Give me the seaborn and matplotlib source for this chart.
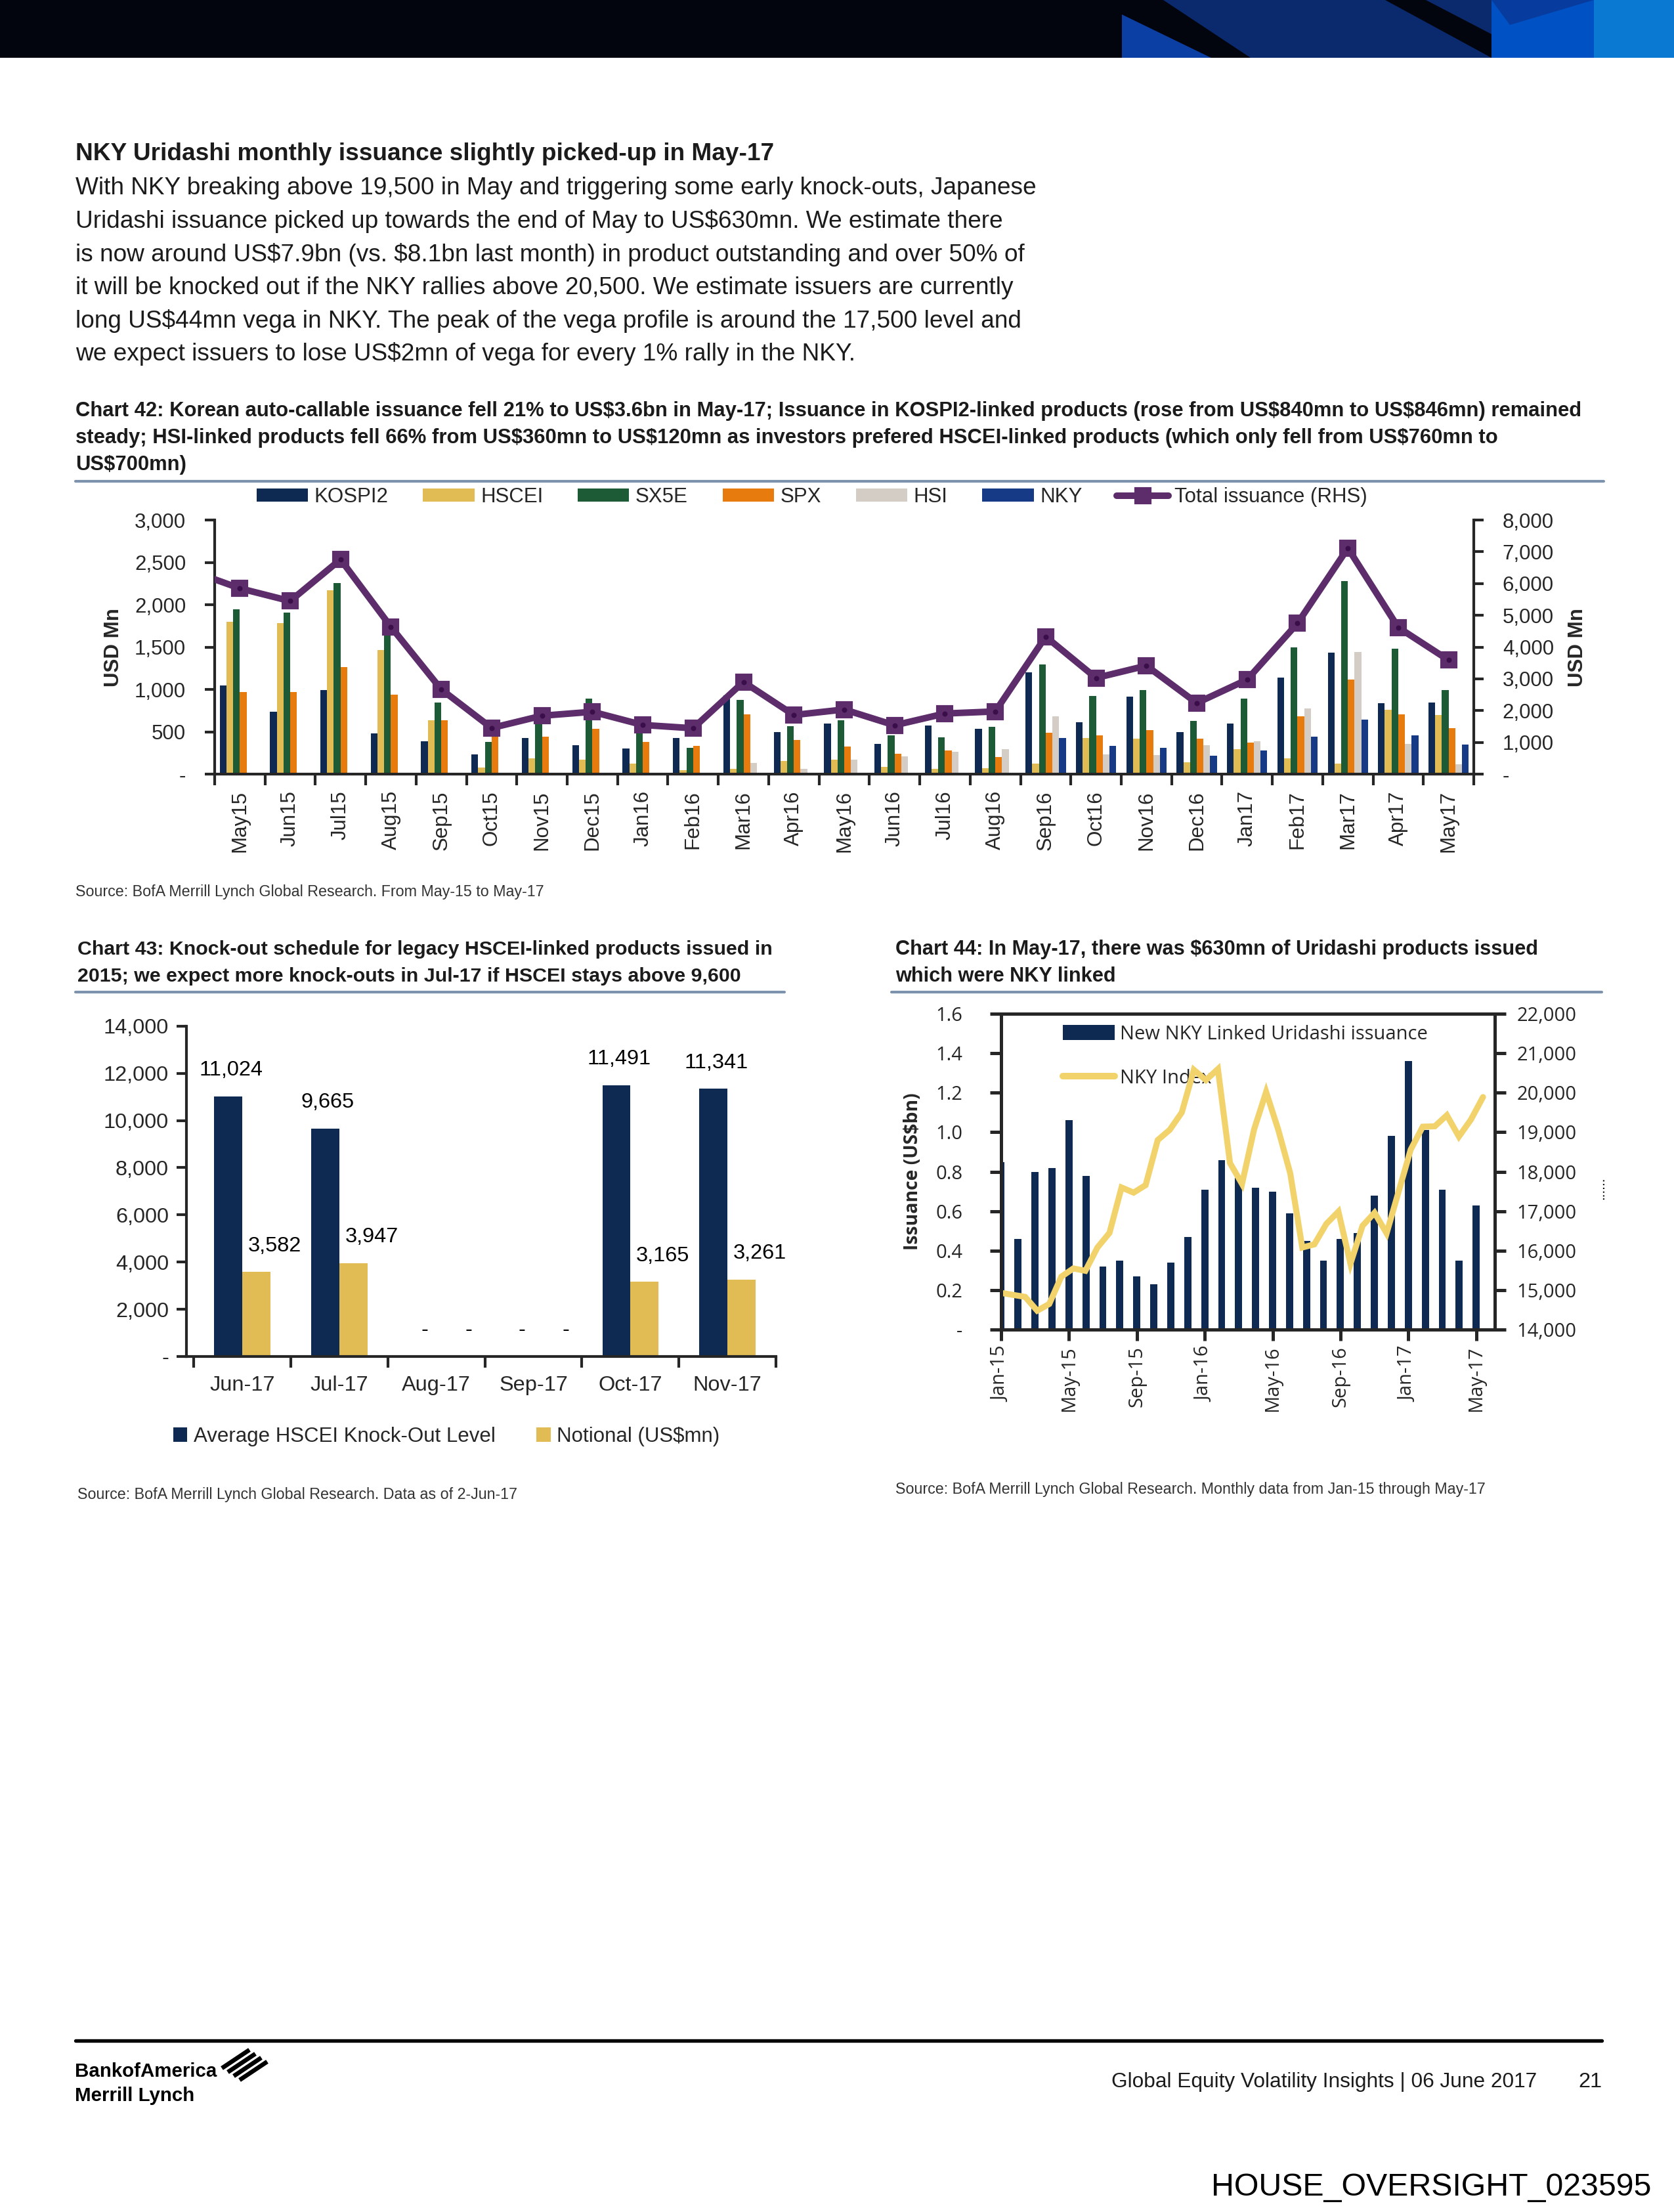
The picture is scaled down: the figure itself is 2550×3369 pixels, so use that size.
import numpy as np
import pandas as pd
import matplotlib
matplotlib.use("Agg")
import matplotlib.pyplot as plt
import seaborn as sns
from matplotlib import font_manager
from matplotlib.patches import Patch, Polygon, Rectangle
from matplotlib.lines import Line2D
from matplotlib.ticker import FuncFormatter

# ---------------- Chart 42: Korean auto-callable issuance (USD mn) ----------------
months42 = ["May15", "Jun15", "Jul15", "Aug15", "Sep15", "Oct15", "Nov15", "Dec15",
            "Jan16", "Feb16", "Mar16", "Apr16", "May16", "Jun16", "Jul16", "Aug16",
            "Sep16", "Oct16", "Nov16", "Dec16", "Jan17", "Feb17", "Mar17", "Apr17", "May17"]
kospi2 = [1050, 740, 990, 480, 385, 230, 425, 345, 305, 430, 930, 500, 598, 355, 573, 535,
          1200, 615, 915, 495, 598, 1140, 1435, 840, 846]
hscei = [1800, 1785, 2170, 1465, 638, 75, 190, 170, 125, 50, 65, 160, 170, 85, 67, 74,
         128, 427, 421, 140, 293, 185, 125, 760, 700]
sx5e = [1950, 1910, 2255, 1665, 848, 378, 650, 895, 487, 315, 880, 566, 637, 456, 433, 558,
        1292, 926, 990, 630, 896, 1500, 2277, 1482, 992]
spx = [972, 972, 1261, 941, 638, 472, 440, 534, 378, 331, 706, 401, 325, 238, 278, 199,
       488, 457, 520, 421, 373, 684, 1114, 707, 543]
hsi = [0, 0, 0, 0, 0, 0, 0, 0, 0, 0, 136, 60, 175, 209, 262, 292,
       684, 230, 224, 341, 388, 777, 1444, 356, 120]
nky = [0, 0, 0, 0, 0, 0, 0, 0, 0, 0, 0, 0, 0, 0, 0, 0,
       426, 332, 311, 215, 278, 442, 645, 457, 350]
total = [5850, 5450, 6760, 4640, 2670, 1455, 1840, 1965, 1550, 1446, 2905, 1863, 2037, 1540,
         1910, 1975, 4330, 3030, 3415, 2240, 2978, 4750, 7115, 4620, 3590]
total_apr15 = 6420  # month before the window: only the stub of the line shows

# ---------------- Chart 43: HSCEI knock-out schedule ----------------
months43 = ["Jun-17", "Jul-17", "Aug-17", "Sep-17", "Oct-17", "Nov-17"]
ko_level = [11024, 9665, 0, 0, 11491, 11341]
notional = [3582, 3947, 0, 0, 3165, 3261]

# ---------------- Chart 44: NKY Uridashi issuance ----------------
months44 = ["Jan-15", "Feb-15", "Mar-15", "Apr-15", "May-15", "Jun-15", "Jul-15", "Aug-15",
            "Sep-15", "Oct-15", "Nov-15", "Dec-15", "Jan-16", "Feb-16", "Mar-16", "Apr-16",
            "May-16", "Jun-16", "Jul-16", "Aug-16", "Sep-16", "Oct-16", "Nov-16", "Dec-16",
            "Jan-17", "Feb-17", "Mar-17", "Apr-17", "May-17"]
uridashi = [0.85, 0.46, 0.80, 0.82, 1.06, 0.78, 0.32, 0.35, 0.27, 0.23, 0.34, 0.47, 0.71,
            0.86, 0.77, 0.72, 0.70, 0.59, 0.45, 0.35, 0.46, 0.49, 0.68, 0.98, 1.36, 1.01,
            0.71, 0.35, 0.63]
nky_index = [14930, 14880, 14830, 14480, 14650, 15340, 15550, 15490, 16080, 16450, 17600,
             17470, 17660, 18800, 19060, 19500, 20580, 20320, 20600, 18220, 17690, 19070,
             20020, 19070, 17960, 16080, 16160, 16680, 16990, 15670, 16630, 16960, 16440,
             17500, 18560, 19140, 19150, 19430, 18890, 19320, 19890]

# ---------------- style ----------------
sns.set_style("ticks")
names = {f.name for f in font_manager.fontManager.ttflist}
HAS_NARROW = "Liberation Sans Narrow" in names
NARROW = "Liberation Sans Narrow" if HAS_NARROW else "Liberation Sans"
ARIAL = "Liberation Sans"
MYRIAD = "Open Sans" if "Open Sans" in names else "DejaVu Sans"
plt.rcParams["font.family"] = [ARIAL, "DejaVu Sans"]
plt.rcParams["axes.linewidth"] = 1.0


def fs(narrow_size, plain_size):
    # same text width whichever of the two families is installed
    return narrow_size if HAS_NARROW else plain_size


NAVY = "#0E2A53"
GOLD = "#E1BC55"
GREEN = "#1D5B37"
ORANGE = "#E77B0D"
BEIGE = "#D4CDC5"
BLUE = "#163A86"
PURPLE = "#5C2C6B"
YELLOW = "#F2D36B"
TXT = "#1B1B1B"


def esc(s):
    return s.replace("$", r"\$")


def dash_fmt(fmt):
    return FuncFormatter(lambda v, p: "-" if abs(v) < 1e-9 else fmt.format(v))


fig = plt.figure(figsize=(8.5, 11.23), dpi=300)
fig.patch.set_facecolor("white")

# page layer in pixel coordinates (decoration and report text)
page = fig.add_axes([0, 0, 1, 1], zorder=-1)
page.set_xlim(0, 2550)
page.set_ylim(3369, 0)
page.axis("off")

# top banner
page.add_patch(Rectangle((0, 0), 2550, 88, color="#02040E", lw=0))
page.add_patch(Rectangle((1709, 0), 563, 88, color="#0B2A6E", lw=0))
page.add_patch(Polygon([(1709, 22), (1845, 88), (1709, 88)], color="#0C3FA4", lw=0))
page.add_patch(Polygon([(1709, 0), (1772, 0), (1905, 88), (1845, 88), (1709, 22)],
                       color="#02040E", lw=0))
page.add_patch(Polygon([(2110, 0), (2172, 0), (2272, 52), (2272, 88)], color="#02040E", lw=0))
page.add_patch(Rectangle((2272, 0), 156, 88, color="#0052C4", lw=0))
page.add_patch(Polygon([(2272, 0), (2428, 0), (2300, 38)], color="#073C9E", lw=0))
page.add_patch(Rectangle((2428, 0), 122, 88, color="#0A79D1", lw=0))

page.text(115, 235, "NKY Uridashi monthly issuance slightly picked-up in May-17",
          family=NARROW, weight="bold", size=fs(10.5, 8.9), color=TXT, va="center")
body = [
    "With NKY breaking above 19,500 in May and triggering some early knock-outs, Japanese",
    "Uridashi issuance picked up towards the end of May to US$630mn. We estimate there",
    "is now around US$7.9bn (vs. $8.1bn last month) in product outstanding and over 50% of",
    "it will be knocked out if the NKY rallies above 20,500. We estimate issuers are currently",
    "long US$44mn vega in NKY. The peak of the vega profile is around the 17,500 level and",
    "we expect issuers to lose US$2mn of vega for every 1% rally in the NKY.",
]
for i, line in enumerate(body):
    page.text(115, 287 + i * 50.4, esc(line), family=NARROW, size=fs(10, 8.9), color=TXT,
              va="center")

t42 = [
    "Chart 42: Korean auto-callable issuance fell 21% to US$3.6bn in May-17; Issuance in KOSPI2-linked products (rose from US$840mn to US$846mn) remained",
    "steady; HSI-linked products fell 66% from US$360mn to US$120mn as investors prefered HSCEI-linked products (which only fell from US$760mn to",
    "US$700mn)",
]
for i, line in enumerate(t42):
    page.text(115, 626 + i * 41, esc(line), family=NARROW, weight="bold", size=fs(8.4, 7.45),
              color=TXT, va="center")
page.plot([115, 2443], [733, 733], color="#7D93AD", lw=1.0)

t43 = ["Chart 43: Knock-out schedule for legacy HSCEI-linked products issued in",
       "2015; we expect more knock-outs in Jul-17 if HSCEI stays above 9,600"]
t44 = ["Chart 44: In May-17, there was $630mn of Uridashi products issued",
       "which were NKY linked"]
for i in range(2):
    page.text(118, 1446 + i * 41, esc(t43[i]), family=NARROW, weight="bold", size=fs(8.4, 7.3),
              color=TXT, va="center")
    page.text(1364, 1446 + i * 41, esc(t44[i]), family=NARROW, weight="bold", size=fs(8.4, 7.4),
              color=TXT, va="center")
page.plot([115, 1195], [1511, 1511], color="#7D93AD", lw=1.0)
page.plot([1358, 2440], [1511, 1511], color="#7D93AD", lw=1.0)

src_kw = dict(family=NARROW, size=fs(6.5, 5.6), color="#333333", va="center")
page.text(115, 1358, "Source: BofA Merrill Lynch Global Research. From May-15 to May-17", **src_kw)
page.text(118, 2277, "Source: BofA Merrill Lynch Global Research. Data as of 2-Jun-17", **src_kw)
page.text(1364, 2268, "Source: BofA Merrill Lynch Global Research. Monthly data from Jan-15 through May-17",
          **src_kw)

# footer
page.plot([115, 2440], [3108, 3108], color="black", lw=1.3)
page.text(114, 3155, "BankofAmerica", family=NARROW, weight="bold", size=fs(8.3, 7.1),
          color="black", va="center")
page.text(114, 3192, "Merrill Lynch", family=NARROW, weight="bold", size=fs(8.3, 7.1),
          color="black", va="center")
for k in range(4):
    page.plot([338 + k * 9, 380 + k * 9], [3150 + k * 6, 3122 + k * 6], color="black", lw=1.6,
              solid_capstyle="butt")
page.text(2341, 3171, "Global Equity Volatility Insights | 06 June 2017", family=NARROW,
          size=fs(8.2, 7.6), color=TXT, va="center", ha="right")
page.text(2440, 3171, "21", family=NARROW, size=fs(8.8, 7.8), color=TXT, va="center", ha="right")
page.text(2515, 3331, "HOUSE_OVERSIGHT_023595", family=NARROW, size=fs(13.5, 11.6),
          color="black", va="center", ha="right")

# ---------------- Chart 42 ----------------
series42 = {"KOSPI2": kospi2, "HSCEI": hscei, "SX5E": sx5e, "SPX": spx, "HSI": hsi, "NKY": nky}
colors42 = [NAVY, GOLD, GREEN, ORANGE, BEIGE, BLUE]
df42 = pd.DataFrame([(m, s, v) for s, vals in series42.items() for m, v in zip(months42, vals)],
                    columns=["month", "index", "usd_mn"])

ax42 = fig.add_axes([0.1282, 0.6500, 0.7522, 0.1149])
sns.barplot(data=df42, x="month", y="usd_mn", hue="index", order=months42,
            hue_order=list(series42), palette=colors42, saturation=1, width=0.8,
            linewidth=0, legend=False, ax=ax42)
ax42.set_ylim(0, 3000)
ax42.set_yticks(np.arange(0, 3001, 500))
ax42.yaxis.set_major_formatter(dash_fmt("{:,.0f}"))
ax42.set_xlabel("")
ax42.set_ylabel("USD Mn", weight="bold", size=7.5, labelpad=4)
ax42.set_xticks(range(len(months42)))
ax42.set_xticklabels(months42, rotation=90, size=7.5)
ax42.set_xticks(np.arange(-0.5, len(months42)), minor=True)
ax42.tick_params(axis="x", which="major", length=0, pad=6)
ax42.tick_params(axis="x", which="minor", length=4, width=1.0, direction="out")
ax42.tick_params(axis="y", labelsize=7.5, length=3.5, width=1.0, pad=7)
for sp in ["top", "right"]:
    ax42.spines[sp].set_visible(False)

ax42r = ax42.twinx()
ax42r.plot(np.arange(-1, len(months42)), [total_apr15] + total, color=PURPLE, lw=2.4,
           marker="s", ms=5.5, mfc=PURPLE, mec=PURPLE)
ax42r.plot(np.arange(len(months42)), total, lw=0, marker="o", ms=0.9, color="#3A0E48")
ax42r.set_ylim(0, 8000)
ax42r.set_yticks(np.arange(0, 8001, 1000))
ax42r.yaxis.set_major_formatter(dash_fmt("{:,.0f}"))
ax42r.set_ylabel("USD Mn", weight="bold", size=7.5, labelpad=5)
ax42r.tick_params(axis="y", labelsize=7.5, length=3.5, width=1.0, pad=7)
for sp in ["top", "left", "bottom"]:
    ax42r.spines[sp].set_visible(False)
ax42.set_xlim(-0.5, len(months42) - 0.5)

handles42 = [Patch(color=c, lw=0) for c in colors42]
handles42.append(Line2D([0], [0], color=PURPLE, lw=2.4, marker="s", ms=5.5))
fig.legend(handles42, list(series42) + ["Total issuance (RHS)"], ncol=7, loc="center",
           bbox_to_anchor=(0.4850, 0.7753), frameon=False, fontsize=7.5, handlelength=2.5,
           handleheight=0.6, handletextpad=0.3, columnspacing=1.7)

# ---------------- Chart 43 ----------------
df43 = pd.DataFrame({
    "month": months43 * 2,
    "series": ["Average HSCEI Knock-Out Level"] * len(months43) + ["Notional (US$mn)"] * len(months43),
    "value": ko_level + notional,
})
ax43 = fig.add_axes([0.1114, 0.3868, 0.3522, 0.1493])
sns.barplot(data=df43, x="month", y="value", hue="series", order=months43,
            palette=[NAVY, GOLD], saturation=1, width=0.58, linewidth=0, legend=False, ax=ax43)
ax43.set_ylim(0, 14000)
ax43.set_yticks(np.arange(0, 14001, 2000))
ax43.yaxis.set_major_formatter(dash_fmt("{:,.0f}"))
ax43.set_xlabel("")
ax43.set_ylabel("")
ax43.set_xticks(np.arange(-0.5, len(months43)), minor=True)
ax43.tick_params(axis="x", which="major", length=0, pad=7, labelsize=7.8)
ax43.tick_params(axis="x", which="minor", length=4, width=1.0, direction="out")
ax43.tick_params(axis="y", labelsize=7.8, length=3.5, width=1.0, pad=3)
for sp in ["top", "right"]:
    ax43.spines[sp].set_visible(False)
for cont, dx in zip(ax43.containers, [1.0, 6.7]):
    for bar in cont:
        h = bar.get_height()
        ax43.annotate("-" if h == 0 else f"{h:,.0f}", (bar.get_x() + bar.get_width() / 2, h),
                      xytext=(dx, 9.5), textcoords="offset points", ha="center", va="center",
                      fontsize=7.8, color="black")
ax43.set_xlim(-0.574, len(months43) - 0.5)
fig.legend([Patch(color=NAVY, lw=0), Patch(color=GOLD, lw=0)],
           [esc("Average HSCEI Knock-Out Level"), esc("Notional (US$mn)")], ncol=2,
           loc="center", bbox_to_anchor=(0.2667, 0.3505), frameon=False, fontsize=7.5,
           handlelength=0.7, handleheight=0.7, handletextpad=0.3, columnspacing=2.0)

# ---------------- Chart 44 ----------------
ax44 = fig.add_axes([0.598, 0.3989, 0.295, 0.1428])
sns.barplot(x=months44, y=uridashi, color=NAVY, saturation=1, width=0.42, linewidth=0, ax=ax44)
ax44.set_ylim(0, 1.6)
ax44.set_yticks(np.arange(0, 1.61, 0.2))
ax44.yaxis.set_major_formatter(dash_fmt("{:.1f}"))
ax44.set_ylabel("Issuance (US$bn)", family=MYRIAD, weight="bold", size=6.8, labelpad=5)
tick_pos = list(range(0, len(months44), 4))
ax44.set_xticks(tick_pos)
ax44.set_xticklabels([months44[i] for i in tick_pos], rotation=90, family=MYRIAD, size=7)
ax44.tick_params(axis="x", length=4, width=1.2, direction="out", pad=2)
ax44.tick_params(axis="y", length=4, width=1.2, direction="out", pad=10)
for lab in ax44.get_yticklabels():
    lab.set_family(MYRIAD)
    lab.set_size(7)
for sp in ax44.spines.values():
    sp.set_linewidth(1.2)

ax44r = ax44.twinx()
nky_x = np.linspace(0, 28.4, len(nky_index))
ax44r.plot(nky_x, nky_index, color=YELLOW, lw=2.2, solid_joinstyle="miter")
ax44r.set_ylim(14000, 22000)
ax44r.set_yticks(np.arange(14000, 22001, 1000))
ax44r.yaxis.set_major_formatter(FuncFormatter(lambda v, p: f"{v:,.0f}"))
ax44r.tick_params(axis="y", length=4, width=1.2, direction="out", pad=4)
for lab in ax44r.get_yticklabels():
    lab.set_family(MYRIAD)
    lab.set_size(7)
for sp in ax44r.spines.values():
    sp.set_linewidth(1.2)
ax44.set_xlim(0, 29.1)
ax44.set_xlabel("")

ax44.legend([Patch(color=NAVY, lw=0), Line2D([0], [0], color=YELLOW, lw=2.4)],
            ["New NKY Linked Uridashi issuance", "NKY Index"], loc="upper left",
            bbox_to_anchor=(0.09, 1.02), frameon=False, prop={"family": MYRIAD, "size": 7},
            handlelength=2.7, handleheight=0.8, handletextpad=0.3, labelspacing=1.3)
page.text(2438, 1810, "......", rotation=90, size=5, color="black", ha="center", va="center")

fig.savefig("out.png", dpi=300, facecolor="white")
